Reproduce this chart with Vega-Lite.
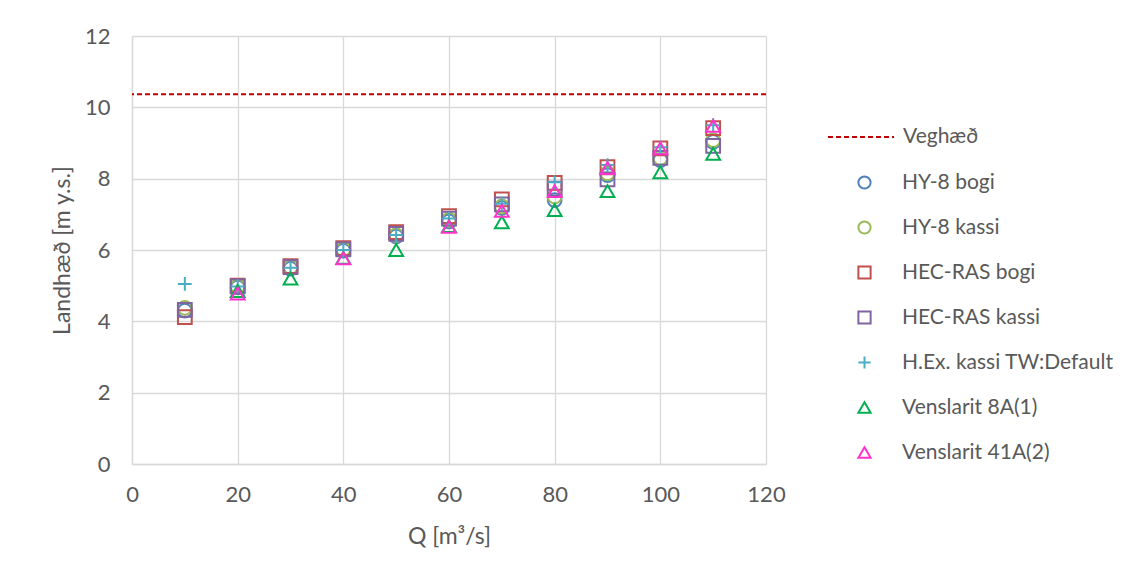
{
  "$schema": "https://vega.github.io/schema/vega-lite/v6.json",
  "autosize": {"type": "none"},
  "width": 634,
  "height": 428,
  "padding": {"left": 132, "top": 36, "right": 368, "bottom": 114},
  "background": "white",
  "config": {
    "font": "Lato",
    "view": {"stroke": null},
    "axis": {
      "labelFont": "Lato", "labelFontSize": 22, "labelColor": "#595959", "labelFlush": false,
      "titleFont": "Lato", "titleFontSize": 23, "titleColor": "#595959", "titleFontWeight": "normal",
      "gridColor": "#d9d9d9", "gridWidth": 1.3, "domainColor": "#d9d9d9", "domainWidth": 1.3,
      "ticks": false
    },
    "legend": {
      "labelFont": "Lato", "labelFontSize": 21, "labelColor": "#595959", "padding": 0, "labelLimit": 400
    }
  },
  "datasets": {
    "pts": [
      {"series": "HY-8 bogi", "Q": 10, "H": 4.30}, {"series": "HY-8 bogi", "Q": 20, "H": 4.95}, {"series": "HY-8 bogi", "Q": 30, "H": 5.48}, {"series": "HY-8 bogi", "Q": 40, "H": 5.98}, {"series": "HY-8 bogi", "Q": 50, "H": 6.38}, {"series": "HY-8 bogi", "Q": 60, "H": 6.80}, {"series": "HY-8 bogi", "Q": 70, "H": 7.18}, {"series": "HY-8 bogi", "Q": 80, "H": 7.40}, {"series": "HY-8 bogi", "Q": 90, "H": 8.10}, {"series": "HY-8 bogi", "Q": 100, "H": 8.52}, {"series": "HY-8 bogi", "Q": 110, "H": 9.03},
      {"series": "HY-8 kassi", "Q": 10, "H": 4.38}, {"series": "HY-8 kassi", "Q": 20, "H": 4.98}, {"series": "HY-8 kassi", "Q": 30, "H": 5.52}, {"series": "HY-8 kassi", "Q": 40, "H": 6.02}, {"series": "HY-8 kassi", "Q": 50, "H": 6.42}, {"series": "HY-8 kassi", "Q": 60, "H": 6.85}, {"series": "HY-8 kassi", "Q": 70, "H": 7.22}, {"series": "HY-8 kassi", "Q": 80, "H": 7.50}, {"series": "HY-8 kassi", "Q": 90, "H": 8.15}, {"series": "HY-8 kassi", "Q": 100, "H": 8.58}, {"series": "HY-8 kassi", "Q": 110, "H": 9.08},
      {"series": "HEC-RAS bogi", "Q": 10, "H": 4.12}, {"series": "HEC-RAS bogi", "Q": 20, "H": 5.00}, {"series": "HEC-RAS bogi", "Q": 30, "H": 5.55}, {"series": "HEC-RAS bogi", "Q": 40, "H": 6.05}, {"series": "HEC-RAS bogi", "Q": 50, "H": 6.50}, {"series": "HEC-RAS bogi", "Q": 60, "H": 6.95}, {"series": "HEC-RAS bogi", "Q": 70, "H": 7.42}, {"series": "HEC-RAS bogi", "Q": 80, "H": 7.88}, {"series": "HEC-RAS bogi", "Q": 90, "H": 8.32}, {"series": "HEC-RAS bogi", "Q": 100, "H": 8.85}, {"series": "HEC-RAS bogi", "Q": 110, "H": 9.42},
      {"series": "HEC-RAS kassi", "Q": 10, "H": 4.32}, {"series": "HEC-RAS kassi", "Q": 20, "H": 4.98}, {"series": "HEC-RAS kassi", "Q": 30, "H": 5.52}, {"series": "HEC-RAS kassi", "Q": 40, "H": 6.02}, {"series": "HEC-RAS kassi", "Q": 50, "H": 6.45}, {"series": "HEC-RAS kassi", "Q": 60, "H": 6.88}, {"series": "HEC-RAS kassi", "Q": 70, "H": 7.28}, {"series": "HEC-RAS kassi", "Q": 80, "H": 7.72}, {"series": "HEC-RAS kassi", "Q": 90, "H": 7.98}, {"series": "HEC-RAS kassi", "Q": 100, "H": 8.58}, {"series": "HEC-RAS kassi", "Q": 110, "H": 8.92},
      {"series": "H.Ex. kassi TW:Default", "Q": 10, "H": 5.05}, {"series": "H.Ex. kassi TW:Default", "Q": 20, "H": 4.98}, {"series": "H.Ex. kassi TW:Default", "Q": 30, "H": 5.50}, {"series": "H.Ex. kassi TW:Default", "Q": 40, "H": 6.00}, {"series": "H.Ex. kassi TW:Default", "Q": 50, "H": 6.42}, {"series": "H.Ex. kassi TW:Default", "Q": 60, "H": 6.88}, {"series": "H.Ex. kassi TW:Default", "Q": 70, "H": 7.30}, {"series": "H.Ex. kassi TW:Default", "Q": 80, "H": 7.90}, {"series": "H.Ex. kassi TW:Default", "Q": 90, "H": 8.38}, {"series": "H.Ex. kassi TW:Default", "Q": 100, "H": 8.88}, {"series": "H.Ex. kassi TW:Default", "Q": 110, "H": 9.50},
      {"series": "Venslarit 8A(1)", "Q": 20, "H": 4.85}, {"series": "Venslarit 8A(1)", "Q": 30, "H": 5.20}, {"series": "Venslarit 8A(1)", "Q": 40, "H": 5.78}, {"series": "Venslarit 8A(1)", "Q": 50, "H": 6.00}, {"series": "Venslarit 8A(1)", "Q": 60, "H": 6.67}, {"series": "Venslarit 8A(1)", "Q": 70, "H": 6.78}, {"series": "Venslarit 8A(1)", "Q": 80, "H": 7.12}, {"series": "Venslarit 8A(1)", "Q": 90, "H": 7.65}, {"series": "Venslarit 8A(1)", "Q": 100, "H": 8.18}, {"series": "Venslarit 8A(1)", "Q": 110, "H": 8.70},
      {"series": "Venslarit 41A(2)", "Q": 20, "H": 4.78}, {"series": "Venslarit 41A(2)", "Q": 40, "H": 5.77}, {"series": "Venslarit 41A(2)", "Q": 60, "H": 6.65}, {"series": "Venslarit 41A(2)", "Q": 70, "H": 7.10}, {"series": "Venslarit 41A(2)", "Q": 80, "H": 7.65}, {"series": "Venslarit 41A(2)", "Q": 90, "H": 8.30}, {"series": "Venslarit 41A(2)", "Q": 100, "H": 8.85}, {"series": "Venslarit 41A(2)", "Q": 110, "H": 9.48}
    ],
    "ref": [{"ref": "Veghæð", "H": 10.37}]
  },
  "layer": [
    {
      "data": {"name": "ref"},
      "mark": {"type": "rule", "color": "#C00000", "strokeWidth": 2},
      "encoding": {
        "y": {"field": "H", "type": "quantitative", "scale": {"domain": [0, 12]}},
        "strokeDash": {
          "field": "ref", "type": "nominal",
          "scale": {"range": [[5, 3]]},
          "legend": {
            "title": null, "orient": "none", "legendX": 695, "legendY": 67,
            "symbolType": "stroke", "symbolSize": 4356, "symbolStrokeColor": "#C00000", "symbolStrokeWidth": 2,
            "labelOffset": 8
          }
        }
      }
    },
    {
      "data": {"name": "pts"},
      "mark": {"type": "point", "filled": false, "strokeWidth": 2, "size": 190, "opacity": 1},
      "encoding": {
        "x": {"field": "Q", "type": "quantitative", "scale": {"domain": [0, 120]}, "axis": {"values": [0, 20, 40, 60, 80, 100, 120], "title": "Q [m³/s]", "labelPadding": 20, "titlePadding": 20}},
        "y": {"field": "H", "type": "quantitative", "scale": {"domain": [0, 12]}, "axis": {"values": [0, 2, 4, 6, 8, 10, 12], "title": "Landhæð [m y.s.]", "labelPadding": 22, "titlePadding": 10}},
        "color": {
          "field": "series", "type": "nominal",
          "scale": {
            "domain": ["HY-8 bogi", "HY-8 kassi", "HEC-RAS bogi", "HEC-RAS kassi", "H.Ex. kassi TW:Default", "Venslarit 8A(1)", "Venslarit 41A(2)"],
            "range": ["#4F81BD", "#9BBB59", "#C0504D", "#8064A2", "#4BACC6", "#00B050", "#FF33CC"]
          },
          "legend": {
            "title": null, "orient": "none", "legendX": 722, "legendY": 136,
            "symbolSize": 150, "symbolStrokeWidth": 2, "labelOffset": 27, "rowPadding": 23
          }
        },
        "shape": {
          "field": "series", "type": "nominal",
          "scale": {
            "domain": ["HY-8 bogi", "HY-8 kassi", "HEC-RAS bogi", "HEC-RAS kassi", "H.Ex. kassi TW:Default", "Venslarit 8A(1)", "Venslarit 41A(2)"],
            "range": ["circle", "circle", "square", "square", "M-1,0H1M0,-1V1", "triangle-up", "triangle-up"]
          }
        }
      }
    }
  ]
}
